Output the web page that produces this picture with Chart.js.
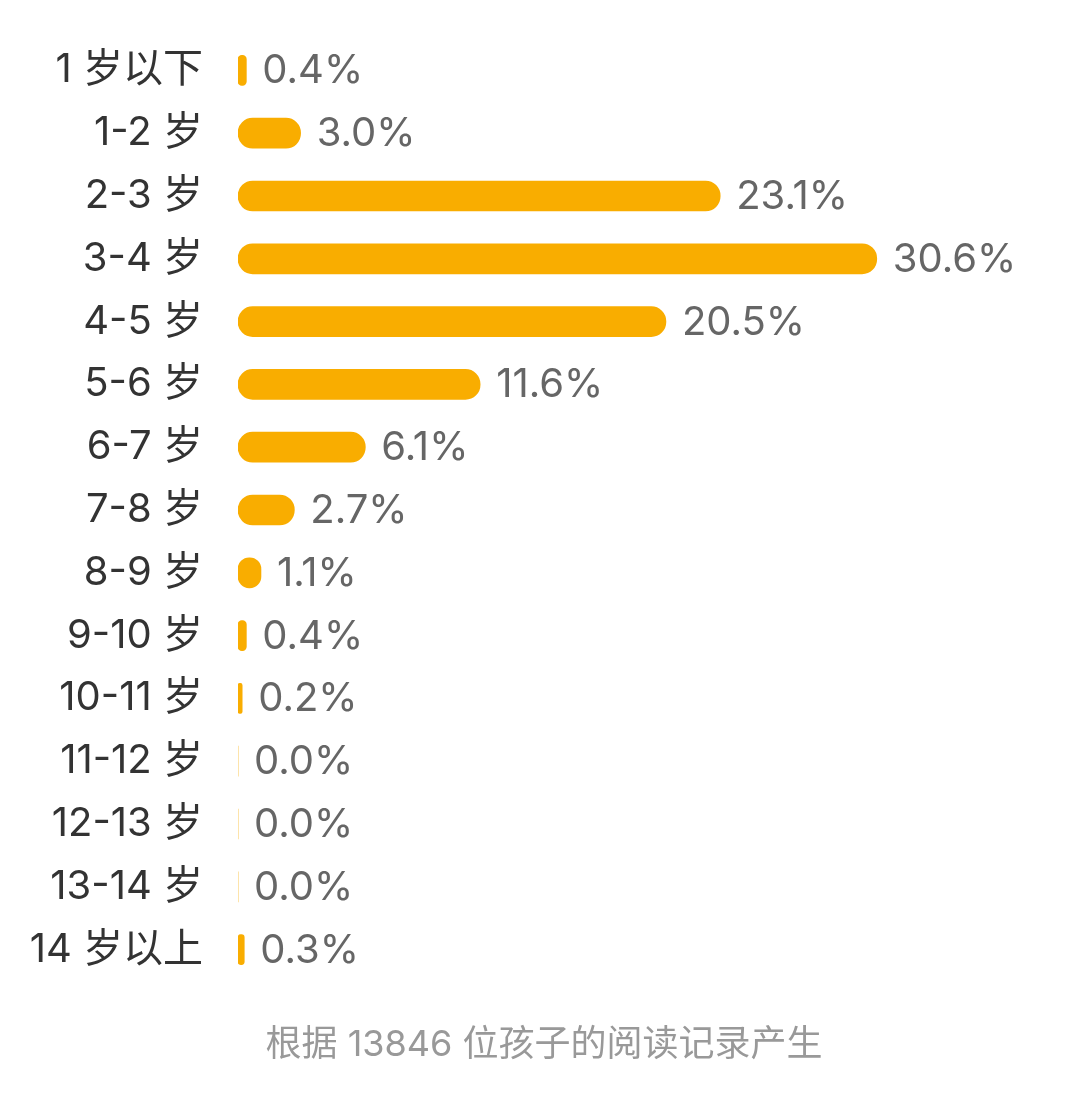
<!DOCTYPE html>
<html>
<head>
<meta charset="utf-8">
<script src="https://cdn.jsdelivr.net/npm/chart.js@4"></script>
<style>
  html, body { margin: 0; padding: 0; background: #fff; }
  #wrap { position: relative; width: 1088px; height: 1106px; }
  #note {
    position: absolute; left: 0; width: 1088px; top: 1014px;
    text-align: center; color: #999; font-size: 36px;
    font-family: Inter, "Noto Sans CJK SC", sans-serif;
  }
</style>
</head>
<body>
<div id="wrap">
  <canvas id="ageChart" width="1088" height="1106"></canvas>
  <div id="note">根据 13846 位孩子的阅读记录产生</div>
</div>
<script>
// Tranches d'âge et pourcentages
const ageGroups = ['1 岁以下', '1-2 岁', '2-3 岁', '3-4 岁', '4-5 岁', '5-6 岁', '6-7 岁',
    '7-8 岁', '8-9 岁', '9-10 岁', '10-11 岁', '11-12 岁', '12-13 岁', '13-14 岁', '14 岁以上'];
const percentages = [0.4, 3.0, 23.1, 30.6, 20.5, 11.6, 6.1, 2.7, 1.1, 0.4, 0.2, 0.0, 0.0, 0.0, 0.3];

const barColor = '#F9AD00';
const fontFamily = 'Inter, "Noto Sans CJK SC", sans-serif';

// Affiche la valeur en bout de barre
const valueLabels = {
    id: 'valueLabels',
    afterDatasetsDraw(chart) {
        const ctx = chart.ctx;
        const meta = chart.getDatasetMeta(0);
        ctx.save();
        ctx.font = '40px ' + fontFamily;
        ctx.fillStyle = '#666';
        ctx.textAlign = 'left';
        ctx.textBaseline = 'middle';
        meta.data.forEach((bar, i) => {
            ctx.fillText(percentages[i].toFixed(1) + '%', bar.x + 16, bar.y + 1);
        });
        ctx.restore();
    }
};

const ctx = document.getElementById('ageChart').getContext('2d');
new Chart(ctx, {
    type: 'bar',
    data: {
        labels: ageGroups,
        datasets: [{
            data: percentages,
            backgroundColor: barColor,
            borderRadius: 15,
            borderSkipped: false,
            barThickness: 30
        }]
    },
    plugins: [valueLabels],
    options: {
        indexAxis: 'y',
        responsive: false,
        animation: false,
        layout: {
            padding: { left: 0, right: 15, top: 39, bottom: 125 }
        },
        plugins: {
            legend: { display: false },
            tooltip: { enabled: false }
        },
        scales: {
            x: {
                display: false,
                min: 0,
                max: 40
            },
            y: {
                grid: { display: false, drawTicks: false },
                border: { display: false },
                ticks: {
                    color: '#333',
                    padding: 35,
                    font: { size: 40, family: fontFamily }
                },
                afterFit(scale) {
                    scale.width = 238;
                    scale.paddingTop = 0;
                    scale.paddingBottom = 0;
                }
            }
        }
    }
});
</script>
</body>
</html>
